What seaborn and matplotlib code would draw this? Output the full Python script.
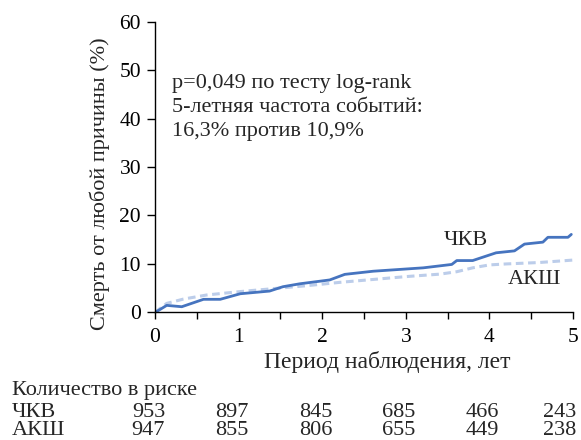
import numpy as np
import pandas as pd
import matplotlib
matplotlib.use("Agg")
import matplotlib.pyplot as plt
import seaborn as sns

# data
pci_t = [0, 0.06, 0.14, 0.32, 0.58, 0.78, 1.02, 1.18, 1.37, 1.53, 1.73, 2.09, 2.27,
         2.61, 3.21, 3.55, 3.61, 3.80, 4.08, 4.30, 4.42, 4.64, 4.70, 4.94, 4.98]
pci_y = [0, 0.6, 1.45, 1.17, 2.7, 2.7, 3.85, 4.1, 4.4, 5.3, 5.9, 6.7, 7.85,
         8.5, 9.2, 9.9, 10.7, 10.7, 12.3, 12.7, 14.1, 14.5, 15.5, 15.5, 16.1]
cabg_t = [0, 0.14, 0.34, 0.62, 1.02, 1.41, 1.81, 2.21, 2.61, 3.01, 3.41, 3.61,
          3.80, 4.00, 4.20, 4.60, 5.0]
cabg_y = [0, 1.86, 2.75, 3.6, 4.3, 4.9, 5.5, 6.2, 6.8, 7.4, 7.9, 8.4,
          9.2, 9.8, 10.0, 10.3, 10.8]

years = [0, 1, 2, 3, 4, 5]
risk_pci = [953, 897, 845, 685, 466, 243]
risk_cabg = [947, 855, 806, 655, 449, 238]
group_labels = ["ЧКВ", "АКШ"]

df = pd.concat([
    pd.DataFrame({"t": pci_t, "y": pci_y, "group": group_labels[0]}),
    pd.DataFrame({"t": cabg_t, "y": cabg_y, "group": group_labels[1]}),
])

sns.set_style("ticks")
plt.rcParams["font.family"] = ["Liberation Serif", "DejaVu Serif"]

fig = plt.figure(figsize=(5.81, 4.40), dpi=100)
ax = fig.add_axes([0.2668, 0.290, 0.7194, 0.6607])

sns.lineplot(data=df[df.group == "АКШ"], x="t", y="y", color="#bccdea",
             linewidth=2.2, ax=ax, estimator=None, sort=False,
             linestyle=(0, (2.5, 1.5)))
sns.lineplot(data=df[df.group == "ЧКВ"], x="t", y="y", color="#4674bf",
             linewidth=2.0, ax=ax, estimator=None, sort=False)

ax.set_xlim(0, 5)
ax.set_ylim(0, 60)
ax.set_xticks(years)
ax.set_xticks(np.arange(0.5, 5, 1), minor=True)
ax.set_yticks(range(0, 61, 10))
ax.tick_params(axis="both", which="both", direction="out", length=6,
               width=1, colors="black", labelsize=15.5, pad=4)
ax.tick_params(axis="x", which="both", length=5, pad=6)
sns.despine(ax=ax)
for s in ["left", "bottom"]:
    ax.spines[s].set_linewidth(1)
    ax.spines[s].set_color("black")

ax.set_xlabel("Период наблюдения, лет", fontsize=17)
ax.set_ylabel("Смерть от любой причины (%)", fontsize=16)
ax.xaxis.set_label_coords(0.556, -0.172)
ax.xaxis.label.set_verticalalignment("center")
ax.yaxis.set_label_coords(-0.1316, 0.444)
ax.yaxis.label.set_verticalalignment("center")

ax.text(0.2, 42.3, "p=0,049 по тесту log-rank\n5-летняя частота событий:\n16,3% против 10,9%",
        fontsize=16, va="center", ha="left", linespacing=1.38)
ax.text(3.46, 14.8, group_labels[0], fontsize=16, va="center", ha="left")
ax.text(4.22, 6.8, group_labels[1], fontsize=16, va="center", ha="left")

# risk table
fig.text(12 / 581, 1 - 395 / 440, "Количество в риске", fontsize=16, va="baseline", ha="left")
for base_y, name, vals in [(417, group_labels[0], risk_pci), (435, group_labels[1], risk_cabg)]:
    fig.text(12 / 581, 1 - base_y / 440, name, fontsize=16, va="baseline", ha="left")
    for yr, v in zip(years, vals):
        ax.annotate(str(v), xy=(yr, 0), xycoords=("data", "axes fraction"),
                    xytext=(10 if yr < 5 else 3, -(base_y - 312)), textcoords="offset pixels",
                    ha="right", va="baseline", fontsize=16, annotation_clip=False)

fig.savefig("out.png", dpi=100)
